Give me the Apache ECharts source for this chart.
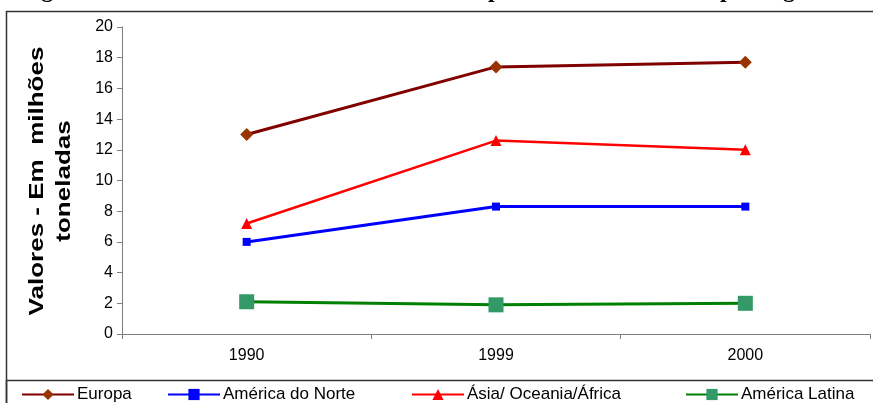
<!DOCTYPE html>
<html>
<head>
<meta charset="utf-8">
<script src="https://cdn.jsdelivr.net/npm/echarts@6/dist/echarts.min.js"></script>
<style>
  html, body { margin: 0; padding: 0; background: #fff; }
  #chart { width: 873px; height: 403px; }
</style>
</head>
<body>
<div id="chart"></div>
<script>
// Anos (categorias do eixo X)
const anos = ['1990', '1999', '2000'];

// Valores em milhões de toneladas, por região
const europa = [13.0, 17.4, 17.7];
const americaNorte = [6.0, 8.3, 8.3];
const asiaOceaniaAfrica = [7.2, 12.6, 12.0];
const americaLatina = [2.1, 1.9, 2.0];

// Nomes das séries (legenda)
const nomes = ['Europa', 'América do Norte', 'Ásia/ Oceania/África', 'América Latina'];

// Marcas do eixo Y
const yMin = 0, yMax = 20, yPasso = 2;

const fonte = '"Liberation Sans", Arial, sans-serif';

const chart = echarts.init(document.getElementById('chart'), null, { renderer: 'canvas' });

function serie(nome, dados, corLinha, corMarca, simbolo, tamanho, largura) {
  return {
    name: nome,
    type: 'line',
    data: dados,
    symbol: simbolo,
    symbolSize: tamanho,
    showAllSymbol: true,
    lineStyle: { color: corLinha, width: largura },
    itemStyle: { color: corMarca, borderWidth: 0 },
    emphasis: { disabled: true },
    animation: false
  };
}

function legenda(nome, esquerda) {
  return {
    data: [nome],
    left: esquerda,
    top: 386,
    itemWidth: 52,
    itemHeight: 14,
    itemGap: 0,
    padding: 0,
    textStyle: { fontFamily: fonte, fontSize: 17, color: '#000', padding: [0, 0, 0, -2] }
  };
}

chart.setOption({
  backgroundColor: '#fff',
  animation: false,
  grid: { left: 122, right: 3, top: 27, bottom: 69, containLabel: false },
  legend: [
    legenda(nomes[0], 21),
    legenda(nomes[1], 167),
    legenda(nomes[2], 411),
    legenda(nomes[3], 685)
  ],
  xAxis: {
    type: 'category',
    data: anos,
    boundaryGap: true,
    axisLine: { lineStyle: { color: '#7f7f7f', width: 1 } },
    axisTick: { show: true, length: 5, inside: false, lineStyle: { color: '#7f7f7f' } },
    axisLabel: { fontFamily: fonte, fontSize: 16, color: '#000', margin: 14 },
    splitLine: { show: false }
  },
  yAxis: {
    type: 'value',
    min: yMin,
    max: yMax,
    interval: yPasso,
    axisLine: { show: true, lineStyle: { color: '#7f7f7f', width: 1 } },
    axisTick: { show: true, length: 5, inside: false, lineStyle: { color: '#7f7f7f' } },
    axisLabel: { fontFamily: fonte, fontSize: 16, color: '#000', margin: 9 },
    splitLine: { show: false }
  },
  series: [
    serie(nomes[0], europa, '#800000', '#993300', 'diamond', 13, 3),
    serie(nomes[1], americaNorte, '#0000ff', '#0000ff', 'rect', 8, 3),
    serie(nomes[2], asiaOceaniaAfrica, '#ff0000', '#ff0000', 'triangle', 11, 2.5),
    serie(nomes[3], americaLatina, '#008000', '#339966', 'rect', 15, 3)
  ],
  graphic: [
    // moldura do gráfico
    { type: 'rect', silent: true, z: -1,
      shape: { x: 6.5, y: 11.5, width: 900, height: 420 },
      style: { fill: 'none', stroke: '#333', lineWidth: 1.5 } },
    // moldura da legenda
    { type: 'rect', silent: true, z: -1,
      shape: { x: 6.5, y: 380.5, width: 900, height: 60 },
      style: { fill: 'none', stroke: '#333', lineWidth: 1.5 } },
    // título da figura (só a parte de baixo fica dentro da página)
    { type: 'text', silent: true, x: 20, y: 3,
      style: { text: 'Figura 1 - Consumo total de adubos minerais por continente e bloco por região',
               font: 'bold 24px "Liberation Serif", "Times New Roman", serif',
               fill: '#000', align: 'left', verticalAlign: 'bottom' } },
    // título do eixo Y
    { type: 'text', silent: true, x: 51, y: 181, rotation: Math.PI / 2, scaleX: 1.3,
      style: { text: 'Valores - Em  milhões\ntoneladas',
               font: 'bold 20px ' + fonte, lineHeight: 27,
               fill: '#000', align: 'center', verticalAlign: 'middle' } }
  ]
});
</script>
</body>
</html>
